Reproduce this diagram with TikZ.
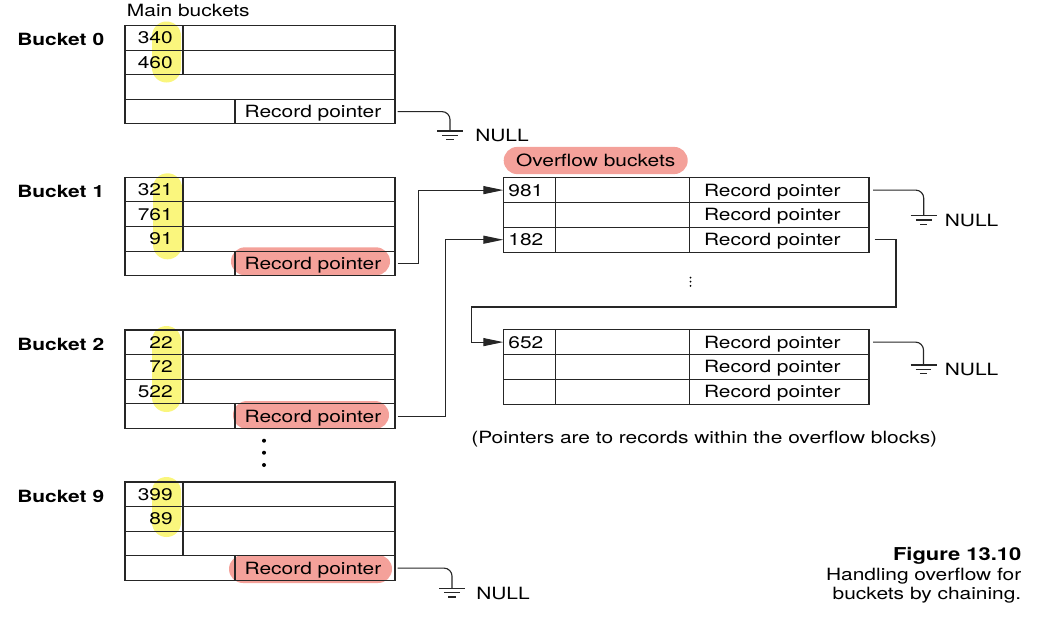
\documentclass[tikz,border=0pt]{standalone}
\usepackage{fontspec}
\setmainfont{TeX Gyre Heros}[FakeStretch=1.24]
\usepackage{tikz}
\usetikzlibrary{arrows.meta}
\definecolor{hlpink}{RGB}{244, 161, 154}
\definecolor{hlyellow}{RGB}{250, 246, 125}

\tikzset{
  grid/.style={line width=0.8pt, black!85},
  txt/.style={inner sep=0pt, text height=8.6pt, text depth=0pt, font=\fontsize{12}{14.4}\selectfont},
  lbl/.style={txt, font=\fontsize{12}{14.4}\selectfont\bfseries},
  ptrcell/.style={txt, minimum width=40mm},
  ovval/.style={txt, text width=10.5mm, align=left, inner xsep=1.2mm},
  ovptr/.style={txt, text width=37.6mm, align=left, inner xsep=3.5mm},
  link/.style={grid, -{Triangle[length=5mm, width=2mm]}},
  tonull/.style={grid, rounded corners=2mm}
}

% ground symbol below a coordinate
\newcommand{\groundsym}[1]{%
  \draw[grid] ([xshift=-3.25mm]#1) -- ([xshift=3.25mm]#1)
    ([xshift=-1.95mm,yshift=-1.08mm]#1) -- ([xshift=1.95mm,yshift=-1.08mm]#1)
    ([xshift=-0.9mm,yshift=-2.16mm]#1) -- ([xshift=0.9mm,yshift=-2.16mm]#1);}

\begin{document}
\begin{tikzpicture}[x=0.25mm, y=-0.25mm]
\useasboundingbox (0,0) rectangle (1040,616);

\node[txt, anchor=west] (mainlbl) at (126.7,10) {Main buckets};

% Bucket 0
\begin{scope}[shift={(0,25.5)}]
\fill[hlyellow, rounded corners=3.6mm] (152,-4) rectangle (181,57);
\draw[grid] (125,0) rectangle (395,98.4);
\draw[grid] (125,24.6) -- (395,24.6) (125,49.2) -- (395,49.2) (125,73.8) -- (395,73.8);
\draw[grid] (183,0) -- (183,49.2);
\draw[grid] (235,73.8) -- (235,98.4);
\node[lbl, anchor=west] (b0lbl) at (17,14.3) {Bucket 0};
\node[txt, anchor=east] (b0v1) at (173,12.3) {340};
\node[txt, anchor=east] (b0v2) at (173,36.9) {460};
\node[ptrcell] (b0ptr) at (313,86.1) {Record pointer};
\end{scope}

% Bucket 1
\begin{scope}[shift={(0,177.3)}]
\fill[hlyellow, rounded corners=3.6mm] (153,-4) rectangle (182,82);
\fill[hlpink, rounded corners=3.5mm] (231,70) rectangle (390,98);
\draw[grid] (125,0) rectangle (395,98.4);
\draw[grid] (125,24.6) -- (395,24.6) (125,49.2) -- (395,49.2) (125,73.8) -- (395,73.8);
\draw[grid] (183,0) -- (183,73.8);
\draw[grid] (235,73.8) -- (235,98.4);
\node[lbl, anchor=west] (b1lbl) at (17,14.3) {Bucket 1};
\node[txt, anchor=east] (b1v1) at (173,12.3) {321};
\node[txt, anchor=east] (b1v2) at (173,36.9) {761};
\node[txt, anchor=east] (b1v3) at (173,61.5) {91};
\node[ptrcell] (b1ptr) at (313,86.1) {Record pointer};
\end{scope}

% Bucket 2
\begin{scope}[shift={(0,330)}]
\fill[hlyellow, rounded corners=3.6mm] (152,-4) rectangle (181,82);
\fill[hlpink, rounded corners=3.5mm] (233,71) rectangle (389,99);
\draw[grid] (125,0) rectangle (395,98.4);
\draw[grid] (125,24.6) -- (395,24.6) (125,49.2) -- (395,49.2) (125,73.8) -- (395,73.8);
\draw[grid] (183,0) -- (183,73.8);
\draw[grid] (235,73.8) -- (235,98.4);
\node[lbl, anchor=west] (b2lbl) at (17,14.3) {Bucket 2};
\node[txt, anchor=east] (b2v1) at (173,12.3) {22};
\node[txt, anchor=east] (b2v2) at (173,36.9) {72};
\node[txt, anchor=east] (b2v3) at (173,61.5) {522};
\node[ptrcell] (b2ptr) at (313,86.1) {Record pointer};
\end{scope}

% more buckets
\fill (264,440.7) circle (0.5mm) (264,452.7) circle (0.5mm) (264,465) circle (0.5mm);

% Bucket 9
\begin{scope}[shift={(0,482)}]
\fill[hlyellow, rounded corners=3.6mm] (152,-5) rectangle (181,55);
\fill[hlpink, rounded corners=3.5mm] (229,73) rectangle (392,101);
\draw[grid] (125,0) rectangle (395,98.4);
\draw[grid] (125,24.6) -- (395,24.6) (125,49.2) -- (395,49.2) (125,73.8) -- (395,73.8);
\draw[grid] (183,0) -- (183,73.8);
\draw[grid] (235,73.8) -- (235,98.4);
\node[lbl, anchor=west] (b9lbl) at (17,14.3) {Bucket 9};
\node[txt, anchor=east] (b9v1) at (173,12.3) {399};
\node[txt, anchor=east] (b9v2) at (173,36.9) {89};
\node[ptrcell] (b9ptr) at (313,86.1) {Record pointer};
\end{scope}

% Overflow bucket 1
\node[txt, fill=hlpink, rounded corners=3.4mm, minimum width=46mm, minimum height=6.8mm] (ovlbl) at (595.7,160.5) {Overflow buckets};
\draw[grid] (503.5,177.7) rectangle (869,252.1);
\draw[grid] (503.5,202.5) -- (869,202.5) (503.5,227.3) -- (869,227.3);
\draw[grid] (555.3,177.7) -- (555.3,252.1) (689.5,177.7) -- (689.5,252.1);
\node[ovval] (ov1v1) at (529.4,190.1) {981};
\node[ovval] (ov1v3) at (529.4,239.7) {182};
\node[ovptr] (ov1p1) at (779.25,190.1) {Record pointer};
\node[ovptr] (ov1p2) at (779.25,214.9) {Record pointer};
\node[ovptr] (ov1p3) at (779.25,239.7) {Record pointer};

% more overflow blocks
\fill (690.5,277.6) circle (0.25mm) (690.5,281.7) circle (0.25mm) (690.5,285.8) circle (0.25mm);

% Overflow bucket 2
\draw[grid] (503.5,329.7) rectangle (869,404.1);
\draw[grid] (503.5,354.5) -- (869,354.5) (503.5,379.3) -- (869,379.3);
\draw[grid] (555.3,329.7) -- (555.3,404.1) (689.5,329.7) -- (689.5,404.1);
\node[ovval] (ov2v1) at (529.4,342.1) {652};
\node[ovptr] (ov2p1) at (779.25,342.1) {Record pointer};
\node[ovptr] (ov2p2) at (779.25,366.9) {Record pointer};
\node[ovptr] (ov2p3) at (779.25,391.7) {Record pointer};

\node[txt, anchor=west] (note) at (471,437.3) {(Pointers are to records within the overflow blocks)};

% Pointers
\draw[link] ([xshift=1.1mm]b1ptr.east) -- ++(21,0) |- (ov1v1.west);
\draw[link] ([xshift=1.1mm]b2ptr.east) -- ++(47.5,0) |- (ov1v3.west);
\draw[link] ([xshift=1.5mm]ov1p3.east) -| (896,307) -- (471.5,307) |- (ov2v1.west);

% NULL ends
\coordinate (gnd0) at (450,131);
\draw[tonull] ([xshift=1.1mm]b0ptr.east) -| (gnd0);
\groundsym{gnd0}
\node[txt, anchor=west] (null0) at (475,135.3) {NULL};

\coordinate (gnd9) at (452,588.3);
\draw[tonull] ([xshift=1.1mm]b9ptr.east) -| (gnd9);
\groundsym{gnd9}
\node[txt, anchor=west] (null9) at (476,593) {NULL};

\coordinate (gndov1) at (923.7,215.7);
\draw[tonull] ([xshift=1.1mm]ov1p1.east) -| (gndov1);
\groundsym{gndov1}
\node[txt, anchor=west] (nullov1) at (944.6,220) {NULL};

\coordinate (gndov2) at (923.5,365);
\draw[tonull] ([xshift=1.1mm]ov2p1.east) -| (gndov2);
\groundsym{gndov2}
\node[txt, anchor=west] (nullov2) at (944.6,369.5) {NULL};

% Caption
\node[lbl, anchor=east, font=\fontsize{12.6}{15}\selectfont\bfseries] (figno) at (1021.6,554.3) {Figure 13.10};
\node[txt, anchor=east] (cap1) at (1021.6,574.3) {Handling overflow for};
\node[txt, anchor=east] (cap2) at (1021.6,593.3) {buckets by chaining.};
\end{tikzpicture}
\end{document}
